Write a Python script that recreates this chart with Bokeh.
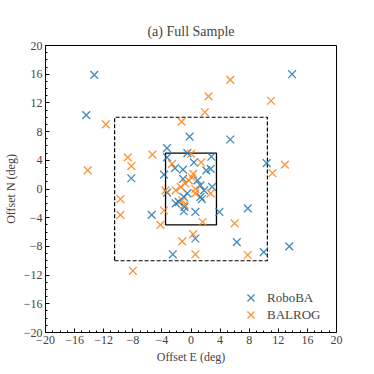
from bokeh.plotting import figure
from bokeh.models import FixedTicker, Legend, LegendItem
from bokeh.embed import file_html
from bokeh.resources import INLINE

# RoboBA offsets (deg)
robo_e = [-13.3, 13.9, -14.4, -0.2, 5.4, -3.3, -0.5, -3.3, 2.8, 0.4, 10.4, -2.2, -1.1, 2.1, 2.7,
          -3.7, -8.2, -1.1, 0.9, 1.3, 1.8, 2.9, -0.5, -1.0, 1.3, 1.5, -2.1, -1.7, -0.9, -1.0,
          0.6, 3.9, -5.4, 7.8, 0.6, 6.3, -2.5, 10.0, 13.5, -3.3]
robo_n = [15.9, 16.0, 10.3, 7.3, 6.9, 5.7, 5.0, 4.4, 4.5, 3.7, 3.6, 2.9, 2.7, 2.6, 2.8,
          2.0, 1.5, 1.4, 1.2, 0.5, -0.2, 0.3, -0.6, -1.1, -1.1, -1.4, -2.0, -1.8, -2.5, -3.1,
          -3.2, -3.2, -3.6, -2.7, -6.9, -7.4, -9.1, -8.8, -8.0, -0.5]

# BALROG offsets (deg)
balrog_e = [5.4, 2.4, 11.0, 1.9, -1.3, -11.7, 0.0, -5.3, -8.7, -2.6, 1.4, -8.2, 12.9, -14.2,
            11.2, 0.3, 0.1, -0.3, -0.8, -1.4, 0.6, -2.1, -3.5, 2.7, 0.6, -9.7, -1.2, -0.9,
            -3.7, -9.7, -4.2, 1.6, 6.0, 0.3, -1.2, 0.6, 7.8, -8.0]
balrog_n = [15.2, 12.9, 12.3, 10.7, 9.4, 9.0, 4.9, 4.8, 4.4, 3.5, 3.7, 3.2, 3.4, 2.6,
            2.2, 2.1, 1.6, 1.2, 0.8, 0.3, 0.0, -0.2, -0.2, -0.6, -0.6, -1.4, -1.6, -2.2,
            -3.0, -3.6, -5.0, -4.6, -4.8, -6.3, -7.3, -9.1, -9.2, -11.4]

# Boxes (E range, N range)
inner_box_e = [-3.5, 3.5]
inner_box_n = [-5.0, 5.0]
outer_box_e = [-10.5, 10.5]
outer_box_n = [-10.0, 10.0]

major_ticks = list(range(-20, 21, 4))
minor_ticks = list(range(-20, 21, 1))
tick_labels = {t: (str(t).replace("-", "\u2212")) for t in major_ticks}

FONT = "Liberation Serif"
BLUE = "#1f77b4"
ORANGE = "#ff7f0e"

p = figure(width=366, height=366, x_range=(-20, 20), y_range=(-20, 20),
           output_backend="svg", toolbar_location=None,
           title="(a) Full Sample",
           min_border_left=45, min_border_right=30, min_border_top=45, min_border_bottom=33)
p.title.align = "center"
p.title.text_font = FONT
p.title.text_font_size = "14px"
p.title.text_font_style = "normal"
p.title.offset = 0
p.title.standoff = 13
p.grid.visible = False
p.outline_line_color = "black"
p.outline_line_width = 1
p.background_fill_color = "white"
p.border_fill_color = "white"

for ax, lab in ((p.xaxis, "Offset E (deg)"), (p.yaxis, "Offset N (deg)")):
    ax.ticker = FixedTicker(ticks=major_ticks, minor_ticks=minor_ticks)
    ax.major_label_overrides = tick_labels
    ax.axis_label = lab
    ax.axis_label_text_font = FONT
    ax.axis_label_text_font_size = "12px"
    ax.axis_label_text_font_style = "normal"
    ax.major_label_text_font = FONT
    ax.major_label_text_font_size = "12px"
    ax.major_tick_in = 4
    ax.major_tick_out = 0
    ax.minor_tick_in = 2
    ax.minor_tick_out = 0
    ax.axis_line_color = "black"
    ax.major_label_standoff = 3
    ax.axis_label_standoff = 3

# boxes
ox = [outer_box_e[0], outer_box_e[1], outer_box_e[1], outer_box_e[0], outer_box_e[0]]
oy = [outer_box_n[0], outer_box_n[0], outer_box_n[1], outer_box_n[1], outer_box_n[0]]
p.line(ox, oy, line_color="black", line_width=1.2, line_dash="4 2")
ix = [inner_box_e[0], inner_box_e[1], inner_box_e[1], inner_box_e[0], inner_box_e[0]]
iy = [inner_box_n[0], inner_box_n[0], inner_box_n[1], inner_box_n[1], inner_box_n[0]]
p.line(ix, iy, line_color="black", line_width=1.3)

r1 = p.scatter(robo_e, robo_n, marker="x", size=11, line_color=BLUE, line_width=1.3, line_alpha=0.85)
r2 = p.scatter(balrog_e, balrog_n, marker="x", size=11, line_color=ORANGE, line_width=1.3, line_alpha=0.85)

legend_style = dict(border_line_color=None, background_fill_alpha=0, label_text_font=FONT,
                    label_text_font_size="13px", glyph_width=25, glyph_height=25,
                    spacing=0, margin=0, padding=2, label_standoff=4, label_height=15)
legend1 = Legend(items=[LegendItem(label="RoboBA", renderers=[r1])],
                 location=(193, 22), **legend_style)
legend2 = Legend(items=[LegendItem(label="BALROG", renderers=[r2])],
                 location=(193, 5), **legend_style)
p.add_layout(legend1)
p.add_layout(legend2)

open("out.html", "w").write(file_html(p, INLINE))
